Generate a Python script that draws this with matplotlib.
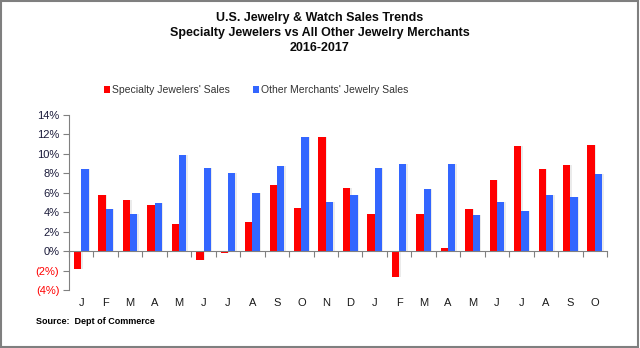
import matplotlib
matplotlib.use("Agg")
import matplotlib.pyplot as plt
from matplotlib.patches import Rectangle
import numpy as np

months = ["J", "F", "M", "A", "M", "J", "J", "A", "S", "O", "N", "D",
          "J", "F", "M", "A", "M", "J", "J", "A", "S", "O"]
specialty = [-1.8, 5.8, 5.3, 4.7, 2.8, -0.9, -0.15, 3.0, 6.8, 4.4, 11.7, 6.5,
             3.8, -2.7, 3.8, 0.35, 4.35, 7.3, 10.8, 8.4, 8.9, 10.9]
other = [8.4, 4.3, 3.8, 5.0, 9.9, 8.5, 8.0, 6.0, 8.8, 11.7, 5.1, 5.8,
         8.5, 9.0, 6.4, 9.0, 3.7, 5.1, 4.1, 5.8, 5.6, 7.9]
y_ticks = [-4, -2, 0, 2, 4, 6, 8, 10, 12, 14]

RED = "#ff0000"
BLUE = "#3366ff"

plt.rcParams["font.family"] = ["Liberation Sans", "DejaVu Sans"]

W, H = 640, 348
fig = plt.figure(figsize=(W / 100, H / 100), dpi=100)
ax = fig.add_axes([69 / W, 1 - 290 / H, (607 - 69) / W, (290 - 115) / H])

x = np.arange(len(months))
bw = 0.3
# soft shadow beneath bars
for xs, vals in ((x - bw / 2, specialty), (x + bw / 2, other)):
    ax.bar(xs + 0.06, vals, bw, color="#000000", alpha=0.08, zorder=1,
           linewidth=0)
ax.bar(x - bw / 2, specialty, bw, color=RED, zorder=2, linewidth=0,
       label="Specialty Jewelers' Sales")
ax.bar(x + bw / 2, other, bw, color=BLUE, zorder=2, linewidth=0,
       label="Other Merchants' Jewelry Sales")

ax.set_xlim(-0.5, len(months) - 0.5)
ax.set_ylim(-4, 14)

for s in ("top", "right"):
    ax.spines[s].set_visible(False)
ax.spines["bottom"].set_position(("data", 0))
ax.spines["bottom"].set_color("#808080")
ax.spines["left"].set_color("#808080")

ax.set_yticks(y_ticks)
ylabels = [f"({abs(v)}%)" if v < 0 else f"{v}%" for v in y_ticks]
ax.set_yticklabels(ylabels, fontsize=8)
for lbl, v in zip(ax.get_yticklabels(), y_ticks):
    lbl.set_color(RED if v < 0 else "#1a1a3a")
ax.tick_params(axis="y", length=4, color="#808080", pad=3)

# category boundaries as tick marks on the zero line
ax.set_xticks(np.arange(len(months) + 1) - 0.5)
ax.set_xticklabels([])
ax.tick_params(axis="x", length=4, color="#808080", direction="out")
for xi, m in zip(x, months):
    ax.text(xi, -5.3, m, ha="center", va="center", fontsize=8,
            color="#1a1a1a", clip_on=False)

for y_px, s in ((18, "U.S. Jewelry & Watch Sales Trends"),
                (33, "Specialty Jewelers vs All Other Jewelry Merchants"),
                (48, "2016-2017")):
    fig.text(0.5, 1 - y_px / H, s, ha="center", va="center", fontsize=9,
             fontweight="bold", color="#0a0a0a")

leg = fig.legend(loc="center", bbox_to_anchor=(256 / W, 1 - 90 / H),
                 ncol=2, frameon=False, fontsize=7.5, handlelength=0.6,
                 handleheight=0.6, handletextpad=0.2, columnspacing=2.2)
for t in leg.get_texts():
    t.set_color("#333333")

fig.text(36 / W, 1 - 322 / H, "Source:  Dept of Commerce", ha="left",
         va="center", fontsize=6.5, fontweight="bold")

fig.patches.append(Rectangle((0.002, 0.003), 0.995, 0.994,
                             transform=fig.transFigure, fill=False,
                             edgecolor="#7f7f7f", linewidth=1.5))

fig.savefig("out.png", dpi=100)
